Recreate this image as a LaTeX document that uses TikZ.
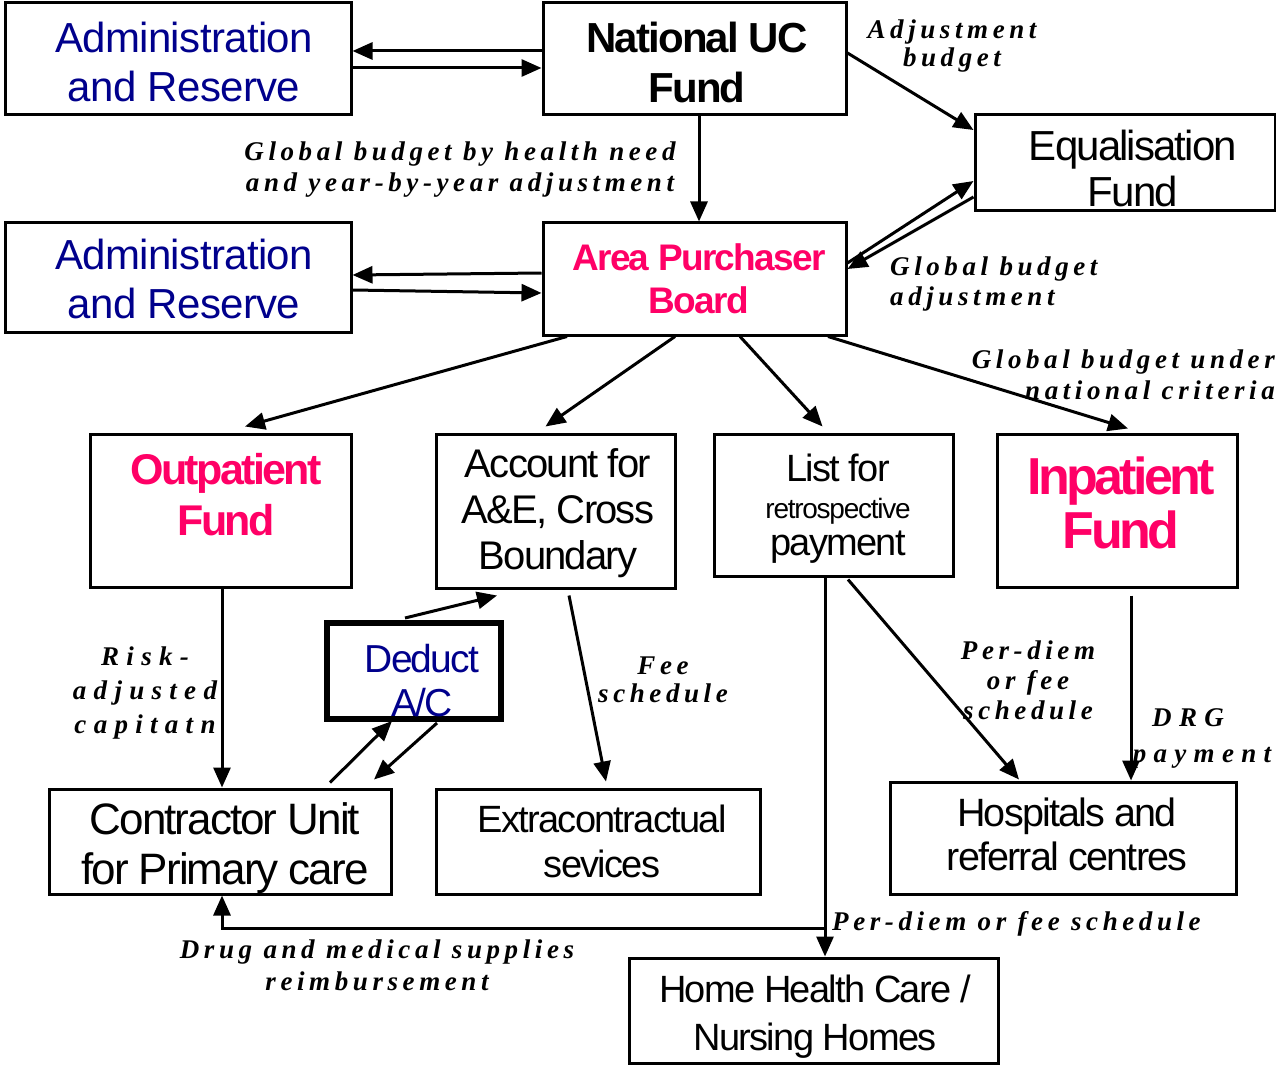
\documentclass[tikz,border=0pt]{standalone}
\usepackage{fontspec}
\setmainfont{Liberation Sans}[LetterSpace=-4.5]
\newfontfamily\labfont{Liberation Serif}[LetterSpace=17]
\newfontfamily\labwide{Liberation Serif}[LetterSpace=27]
\usetikzlibrary{arrows.meta,calc}
\definecolor{navyb}{RGB}{0,0,140}
\definecolor{pinkb}{RGB}{255,0,102}
\tikzset{
  box/.style={draw, line width=3pt, rectangle, inner sep=0pt},
  txt/.style={align=center, inner sep=0pt, anchor=north},
  lab/.style={align=center, inner sep=0pt, anchor=north,
    font=\labfont\bfseries\itshape\fontsize{27}{31}\selectfont},
  arr/.style={line width=3pt, -{Triangle[length=20pt,width=17pt]}},
}
\begin{document}
\begin{tikzpicture}[x=1pt,y=-1pt]
\useasboundingbox (0,0) rectangle (1276,1067);
% boxes
\node[box,minimum width=346pt,minimum height=112pt] (adm1) at (178,59) {};
\node[box,minimum width=303pt,minimum height=112pt] (nuc) at (694.5,59) {};
\node[box,minimum width=300pt,minimum height=96pt] (eq) at (1125,163) {};
\node[box,minimum width=346pt,minimum height=109pt] (adm2) at (178,277.5) {};
\node[box,minimum width=303pt,minimum height=112pt] (apb) at (694.5,279) {};
\node[box,minimum width=261pt,minimum height=153pt] (out) at (220.5,510.5) {};
\node[box,minimum width=239pt,minimum height=154pt] (acc) at (555.5,511) {};
\node[box,minimum width=239pt,minimum height=142pt] (lst) at (833.5,505) {};
\node[box,minimum width=240pt,minimum height=153pt] (inp) at (1117,510.5) {};
\node[box,line width=6pt,minimum width=174pt,minimum height=96pt] (ded) at (414,671) {};
\node[box,minimum width=342pt,minimum height=105pt] (con) at (220,841.5) {};
\node[box,minimum width=324pt,minimum height=105pt] (ext) at (598,841.5) {};
\node[box,minimum width=346pt,minimum height=112pt] (hos) at (1063,838) {};
\node[box,minimum width=369pt,minimum height=105pt] (home) at (813.5,1010.5) {};
% box texts
\node[txt,text=navyb,font=\addfontfeatures{LetterSpace=-1.5}\fontsize{42}{49}\selectfont] (adm1T) at (184,22) {Administration\\and Reserve};
\node[txt,font=\bfseries\fontsize{42}{50}\selectfont] (nucT) at (697,22) {National UC\\Fund};
\node[txt,font=\fontsize{42}{46}\selectfont] (eqT) at (1133,130) {Equalisation\\Fund};
\node[txt,text=navyb,font=\addfontfeatures{LetterSpace=-1.5}\fontsize{42}{49}\selectfont] (adm2T) at (184,239) {Administration\\and Reserve};
\node[txt,text=pinkb,font=\bfseries\fontsize{37}{43}\selectfont] (apbT) at (699,243.5) {Area Purchaser\\Board};
\node[txt,text=pinkb,font=\bfseries\addfontfeatures{LetterSpace=-6}\fontsize{43}{51}\selectfont] (outT) at (226,453) {Outpatient\\Fund};
\node[txt,font=\fontsize{40}{46}\selectfont] (accT) at (558,448) {Account for\\A\&E, Cross\\Boundary};
\node[txt,font=\fontsize{38}{37}\selectfont] (lstT) at (838,454) {List for\\{\fontsize{28}{37}\selectfont retrospective}\\payment};
\node[txt,text=pinkb,font=\bfseries\addfontfeatures{LetterSpace=-7}\fontsize{52}{54}\selectfont] (inpT) at (1121,457) {Inpatient\\Fund};
\node[txt,text=navyb,font=\fontsize{39}{44}\selectfont] (dedT) at (422,644) {Deduct\\A/C};
\node[txt,font=\fontsize{44}{50}\selectfont] (conT) at (225,802.5) {Contractor Unit\\for Primary care};
\node[txt,font=\fontsize{38}{45}\selectfont] (extT) at (602,805) {Extracontractual\\sevices};
\node[txt,font=\fontsize{39.5}{44}\selectfont] (hosT) at (1067,798) {Hospitals and\\referral centres};
\node[txt,font=\fontsize{38}{48}\selectfont] (homeT) at (815,975) {Home Health Care /\\Nursing Homes};
% labels
\node[lab,font=\labfont\bfseries\itshape\fontsize{27}{28}\selectfont] (adjL) at (952,20) {Adjustment\\budget};
\node[lab] (gbL) at (460,142) {Global budget by health need\\and year-by-year adjustment};
\node[lab,align=left,anchor=north west,font=\labfont\bfseries\itshape\fontsize{27}{30}\selectfont] (gbaL) at (890,257) {Global budget\\adjustment};
\node[lab,align=right,anchor=north east] (gbnL) at (1275,350) {Global budget under\\national criteria};
\node[lab,font=\labwide\bfseries\itshape\fontsize{27}{34}\selectfont] (riskL) at (145,647) {Risk-\\adjusted\\capitatn};
\node[lab,font=\labfont\bfseries\itshape\fontsize{27}{28}\selectfont] (feeL) at (663,657) {Fee\\schedule};
\node[lab,font=\labfont\bfseries\itshape\fontsize{27}{30}\selectfont] (pdL) at (1028,641) {Per-diem\\or fee\\schedule};
\node[lab,font=\labwide\bfseries\itshape\fontsize{27}{36}\selectfont] (drgL) at (1202,708) {\hspace*{-28pt}DRG\\payment};
\node[lab,anchor=north west] (pd2L) at (832,911) {Per-diem or fee schedule};
\node[lab,font=\labfont\bfseries\itshape\fontsize{27}{32}\selectfont] (drugL) at (377,940) {Drug and medical supplies\\reimbursement};
% connectors
\draw[arr] (nuc.west |- 0,51) -- (adm1.east |- 0,51);
\draw[arr] (adm1.east |- 0,68) -- (nuc.west |- 0,68);
\draw[arr] (nuc.south -| 699,0) -- (apb.north -| 699,0);
\draw[arr] (nuc.east |- 0,53) -- (eq.west |- 0,130);
\draw[arr] (apb.east |- 0,263) -- (eq.west |- 0,181);
\draw[arr] (eq.west |- 0,197) -- (apb.east |- 0,269);
\draw[arr] (apb.west |- 0,273) -- (adm2.east |- 0,275);
\draw[arr] (adm2.east |- 0,290) -- (apb.west |- 0,293);
\draw[arr] (apb.south -| 567,0) -- ($(out.north)+(24.5,-6)$);
\draw[arr] (apb.south -| 675,0) -- ($(acc.north)+(-10,-6)$);
\draw[arr] (apb.south -| 740,0) -- ($(lst.north)+(-11,-6)$);
\draw[arr] (apb.south -| 828,0) -- ($(inp.north)+(11,-4)$);
\draw[arr] (out.south -| 222,0) -- (con.north -| 222,0);
\draw[arr] ($(ded.north)+(-9,-2)$) -- ($(acc.south)+(-58.5,6)$);
\draw[arr] ($(con.north)+(110,-5)$) -- ($(ded.south)+(-22,-1)$);
\draw[arr] ($(ded.south)+(23,1)$) -- ($(con.north)+(154,-8)$);
\draw[arr] ($(acc.south)+(13.5,6)$) -- ($(ext.north)+(8,-6)$);
\draw[arr] (lst.south -| 825,0) -- (home.north -| 825,0);
\draw[arr] ($(lst.south)+(14.5,2)$) -- ($(hos.north)+(-44,-1)$);
\draw[arr] ($(inp.south -| 1131,0)+(0,7)$) -- (hos.north -| 1131,0);
\coordinate (j) at (825,928);
\draw[arr] (j) -| ($(con.south)+(2,0)$);
\end{tikzpicture}
\end{document}
